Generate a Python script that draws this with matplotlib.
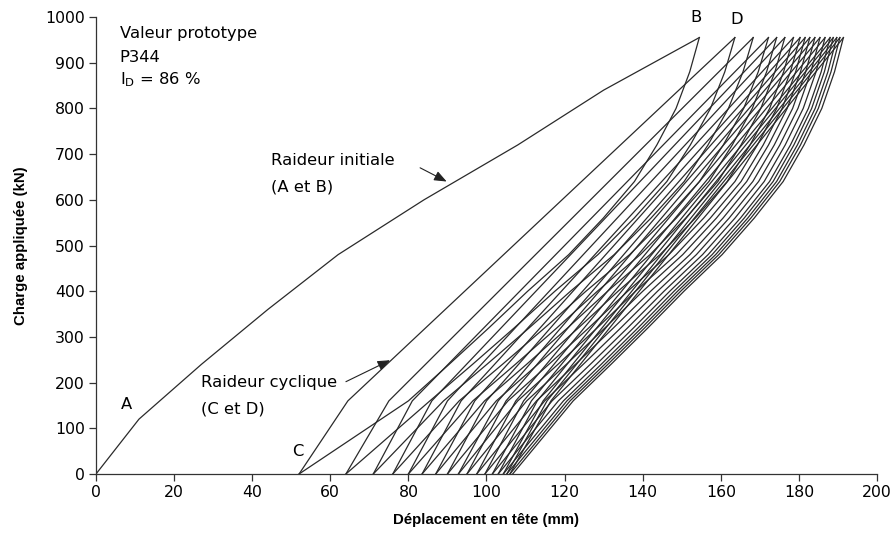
import matplotlib
matplotlib.use("Agg")
import matplotlib.pyplot as plt

plt.rcParams['font.family'] = ['DejaVu Sans']
plt.rcParams['mathtext.fontset'] = 'dejavusans'

# ---- data ----
initial_x = [0, 11, 27, 44, 62, 84, 108, 130, 154.5]
initial_y = [0, 120, 240, 360, 480, 600, 720, 840, 955]
peak_load = 955
knee_load = 160
peaks = [154.5, 163.6, 168.3, 172.2, 174.3, 176.4, 178.6, 180.3, 181.6,
         182.8, 184.1, 185.4, 186.7, 188.0, 188.8, 189.7, 190.5, 191.4]
zeros = [52, 64, 71, 76, 80, 83.5, 87, 90, 92.8,
         95, 97.5, 99.6, 101.5, 103, 104.3, 105.2, 106, 106.7]
unload_knee = [80, 85.5, 89, 93, 96.5, 99.5, 102.5, 105.5, 108,
               110.3, 112.8, 114.9, 116.8, 118.4, 119.7, 120.6, 121.4, 122.2]
reload_knee = [64.5, 75, 81, 86, 90, 93.5, 97, 100, 103,
               105, 107.5, 109.5, 111.5, 113, 114.5, 115.5, 116.5]
unload_levels = [955, 880, 800, 720, 640, 560, 480, 400, 320, 240, 160]
unload_frac = [1.0, 0.967, 0.92, 0.854, 0.777, 0.67, 0.551, 0.41, 0.277, 0.14, 0.0]

xticks = [0, 20, 40, 60, 80, 100, 120, 140, 160, 180, 200]
yticks = [0, 100, 200, 300, 400, 500, 600, 700, 800, 900, 1000]

line_color = '#2a2a2a'
lw = 0.9

fig = plt.figure(figsize=(8.95, 5.45), dpi=100)
ax = fig.add_axes([96/895, 1 - 474/545, (877-96)/895, (474-17)/545])

# initial loading
ax.plot(initial_x, initial_y, color=line_color, lw=lw)

n = len(peaks)
for k in range(n):
    # unloading from peak k
    ux = [unload_knee[k] + (peaks[k] - unload_knee[k]) * f for f in unload_frac] + [zeros[k]]
    uy = list(unload_levels) + [0]
    ax.plot(ux, uy, color=line_color, lw=lw)
    # reloading from zero k to next peak
    if k + 1 < n:
        ax.plot([zeros[k], reload_knee[k], peaks[k + 1]], [0, knee_load, peak_load],
                color=line_color, lw=lw)

ax.set_xlim(0, 200)
ax.set_ylim(0, 1000)
ax.set_xticks(xticks)
ax.set_yticks(yticks)
ax.spines['top'].set_visible(False)
ax.spines['right'].set_visible(False)
for s in ['left', 'bottom']:
    ax.spines[s].set_color('#333333')
    ax.spines[s].set_linewidth(0.9)
ax.tick_params(direction='out', length=5, width=0.9, color='#333333', labelsize=11.3, pad=3)

lab_font = dict(family='Liberation Sans', fontsize=10.8, fontweight='bold')
ax.set_xlabel('Déplacement en tête (mm)', labelpad=9, **lab_font)
ax.set_ylabel('Charge appliquée (kN)', labelpad=12, **lab_font)

tfs = 11.8
ax.text(6.1, 964, 'Valeur prototype', fontsize=tfs, va='center', ha='left')
ax.text(6.1, 912, 'P344', fontsize=tfs, va='center', ha='left')
ax.text(6.1, 862, r'I$_{\mathrm{D}}$ = 86 %', fontsize=tfs, va='center', ha='left')

ax.text(7.9, 151, 'A', fontsize=tfs, ha='center', va='center')
ax.text(153.6, 998, 'B', fontsize=tfs, ha='center', va='center')
ax.text(164.0, 995, 'D', fontsize=tfs, ha='center', va='center')
ax.text(51.7, 50, 'C', fontsize=tfs, ha='center', va='center')

ax.text(44.8, 687, 'Raideur initiale', fontsize=tfs, ha='left', va='center')
ax.text(44.8, 628, '(A et B)', fontsize=tfs, ha='left', va='center')
ax.text(27.0, 201, 'Raideur cyclique', fontsize=tfs, ha='left', va='center')
ax.text(27.0, 142, '(C et D)', fontsize=tfs, ha='left', va='center')

ap = dict(arrowstyle='-|>,head_length=0.75,head_width=0.3', color='#222222', lw=0.8,
          shrinkA=0, shrinkB=0)
ax.annotate('', xy=(89.8, 640), xytext=(83.0, 670), arrowprops=ap)
ax.annotate('', xy=(75.3, 249), xytext=(64.0, 202), arrowprops=ap)

fig.savefig('out.png', dpi=100)
